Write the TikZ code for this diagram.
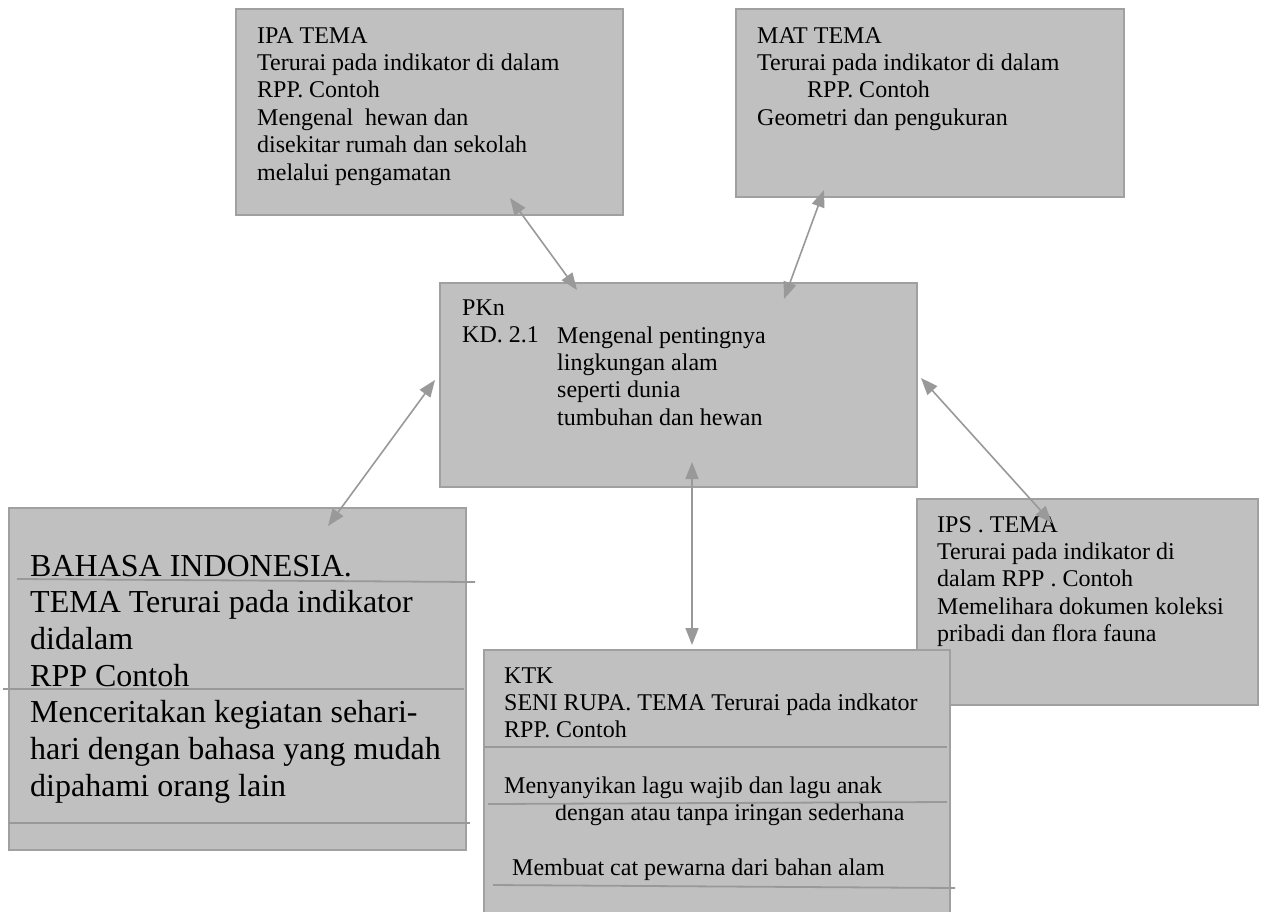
\documentclass[tikz,border=0pt]{standalone}
\usepackage{fontspec}
\setmainfont{Liberation Serif}
\usetikzlibrary{arrows.meta}
\definecolor{boxfill}{HTML}{C0C0C0}
\definecolor{boxline}{HTML}{A0A0A0}
\definecolor{arrgray}{HTML}{999999}
\begin{document}
\begin{tikzpicture}[x=1pt,y=-1pt,
  box/.style={draw=boxline, line width=1.8pt, fill=boxfill, rectangle, anchor=north west, inner sep=0pt, outer sep=0pt},
  txt/.style={anchor=base west, align=left, inner sep=0pt, font=\fontsize{24pt}{27.4pt}\selectfont},
  bigtxt/.style={anchor=base west, align=left, inner sep=0pt, font=\fontsize{32pt}{36.7pt}\selectfont},
  arr/.style={draw=arrgray, line width=1.6pt, {Triangle[length=17pt,width=13pt]}-{Triangle[length=17pt,width=13pt]}},
  rulel/.style={draw=arrgray, line width=1.8pt}]
\useasboundingbox (0,0) rectangle (1265,911);
\fill[white] (0,0) rectangle (1265,911);
\clip (0,0) rectangle (1265,911);

% boxes
\node[box, minimum width=387pt, minimum height=206pt] (ipa) at (236,9) {};
\node[box, minimum width=388pt, minimum height=188pt] (mat) at (736,9) {};
\node[box, minimum width=477pt, minimum height=204pt] (pkn) at (440,283) {};
\node[box, minimum width=457pt, minimum height=342pt] (bahasa) at (9,508) {};
\node[box, minimum width=341pt, minimum height=206pt] (ips) at (917,499) {};
\node[box, minimum width=466pt, minimum height=290pt] (ktk) at (484,650) {};

% texts (anchored at the baseline of their last line)
\node[txt] (ipaT) at (257,180) {IPA TEMA\\Terurai pada indikator di dalam\\RPP. Contoh\\Mengenal~ hewan dan\\disekitar rumah dan sekolah\\melalui pengamatan};
\node[txt] (matT) at (757,125.2) {MAT TEMA\\Terurai pada indikator di dalam\\\hspace*{50pt}RPP. Contoh\\Geometri dan pengukuran};
\node[txt] (pknA) at (462,342.4) {PKn\\KD. 2.1};
\node[txt] (pknB) at (557,425.2) {Mengenal pentingnya\\lingkungan alam\\seperti dunia\\tumbuhan dan hewan};
\node[txt] (ipsT) at (937,641.6) {IPS . TEMA\\Terurai pada indikator di\\dalam RPP . Contoh\\Memelihara dokumen koleksi\\pribadi dan flora fauna};
\node[bigtxt] (bahasaT) at (30,796.2) {BAHASA INDONESIA.\\TEMA Terurai pada indikator\\didalam\\RPP Contoh\\Menceritakan kegiatan sehari-\\hari dengan bahasa yang mudah\\dipahami orang lain};
\node[txt] (ktkT) at (504,737.8) {KTK\\SENI RUPA. TEMA Terurai pada indkator\\RPP. Contoh};
\node[txt] (ktkA) at (504,793) {Menyanyikan lagu wajib dan lagu anak};
\node[txt] (ktkB) at (555,820) {dengan atau tanpa iringan sederhana};
\node[txt] (ktkC) at (512,875) {Membuat cat pewarna dari bahan alam};

% stray rules
\draw[rulel] (17,579) -- (475,582);
\draw[rulel] (3,689) -- (464,689);
\draw[rulel] (8,823) -- (470,823);
\draw[rulel] (484,747) -- (947,747);
\draw[rulel] (488,804) -- (947,802);
\draw[rulel] (493,885) -- (955,888);

% connectors
\draw[arr] ([shift={(274pt,17pt)}]ipa.south west) -- ([shift={(137pt,-7pt)}]pkn.north west);
\draw[arr] ([shift={(88pt,7pt)}]mat.south west) -- ([shift={(344pt,-16pt)}]pkn.north west);
\draw[arr] ([shift={(-5pt,-97pt)}]pkn.north west) -- ([shift={(319pt,-18pt)}]bahasa.north west);
\draw[arr] ([shift={(4pt,-95pt)}]pkn.north east) -- ([shift={(135pt,-24pt)}]ips.north west);
\draw[arr] ([shift={(252pt,25pt)}]pkn.south west) -- ([shift={(208pt,5pt)}]ktk.north west);
\end{tikzpicture}
\end{document}
